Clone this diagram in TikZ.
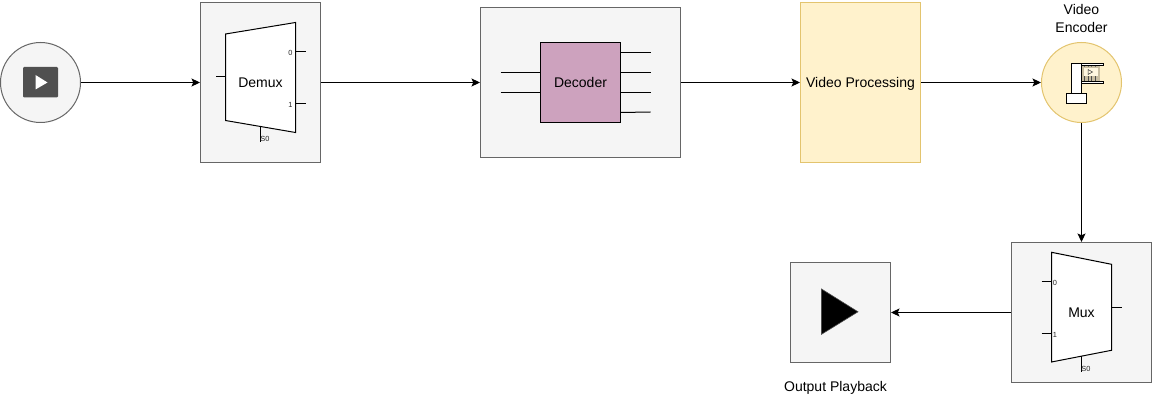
\documentclass[tikz,border=0pt]{standalone}
\usepackage{fontspec}
\setmainfont{Liberation Sans}
\usetikzlibrary{arrows.meta}
\definecolor{boxfill}{HTML}{F5F5F5}
\definecolor{boxline}{HTML}{666666}
\definecolor{yelfill}{HTML}{FFF2CC}
\definecolor{yelline}{HTML}{E3C46E}
\definecolor{purp}{HTML}{CDA2BE}
\definecolor{icon}{HTML}{505050}
\definecolor{film}{HTML}{C9BEA2}
\tikzset{
  graybox/.style={draw=boxline,fill=boxfill,line width=1pt,inner sep=0pt},
  conn/.style={draw=black,line width=1pt,-{Stealth[length=8.5pt,width=8pt,inset=1.8pt]}},
  glyph/.style={draw=black,line width=1pt},
  body/.style={font=\fontsize{14}{16}\selectfont,inner sep=0pt,text=black},
  tiny/.style={font=\fontsize{7.4}{8}\selectfont,inner sep=0pt,text=black!85},
}
\begin{document}
\begin{tikzpicture}[x=1pt,y=-1pt]
\useasboundingbox (0,0) rectangle (1152,403);
% containers
\node[graybox,circle,minimum size=80pt] (src) at (40.5,82.5) {};
\node[graybox,minimum width=120pt,minimum height=160pt] (demuxbox) at (260.5,82.5) {};
\node[graybox,minimum width=200pt,minimum height=150pt] (decbox) at (580.5,82.5) {};
\node[draw=yelline,fill=yelfill,line width=1pt,inner sep=0pt,minimum width=120pt,minimum height=160pt] (proc) at (860.5,82.5) {};
\node[body] (proclabel) at (860.5,83.6) {Video Processing};
\node[draw=yelline,fill=yelfill,line width=1pt,circle,inner sep=0pt,minimum size=80pt] (enc) at (1081.5,82.5) {};
\node[graybox,minimum width=140pt,minimum height=140pt] (muxbox) at (1081.5,312.5) {};
\node[graybox,minimum width=100pt,minimum height=100pt] (play) at (840.5,312.5) {};
% source icon
\fill[icon,rounded corners=1.2pt] (23,67) rectangle (58,97.5);
\fill[white] (35.5,75) -- (47.5,82.5) -- (35.5,89.5) -- cycle;
% demux
\draw[glyph,fill=white] (225.5,34) -- (295.5,22.5) -- (295.5,132.5) -- (225.5,120.5) -- cycle;
\draw[glyph] (225.5,77) -- (215.5,77);
\draw[glyph] (295.5,51.5) -- (305.5,51.5);
\draw[glyph] (295.5,103.5) -- (305.5,103.5);
\draw[glyph] (260.5,126.5) -- (260.5,142.5);
\node[tiny] (d0) at (290.5,52.5) {0};
\node[tiny] (d1) at (290.5,104.5) {1};
\node[tiny] (ds) at (265,138.5) {S0};
\node[body] (demuxlabel) at (260.5,82.3) {Demux};
% decoder
\node[draw=black,fill=purp,line width=1pt,inner sep=0pt,minimum size=80pt] (dec) at (580.5,82.5) {};
\node[body] (declabel) at (580.5,82.3) {Decoder};
\draw[glyph] (500.5,72.5) -- (540.5,72.5);
\draw[glyph] (500.5,92.5) -- (540.5,92.5);
\draw[glyph] (620.5,52.5) -- (650.5,52.5);
\draw[glyph] (620.5,72.5) -- (650.5,72.5);
\draw[glyph] (620.5,92.5) -- (650.5,92.5);
\draw[glyph] (620.5,112.5) -- (650.5,112);
% encoder icon
\node[body,align=center,font=\fontsize{14}{18}\selectfont] (enclabel) at (1081.5,18) {Video\\Encoder};
\fill[film] (1082,66) rectangle (1099.5,81);
\fill[yelfill!60!white] (1084,68) rectangle (1097.5,76);
\foreach \sx in {1084.5,1088,1091.5,1095}{\draw[black!70,line width=0.8pt] (\sx,76.5) -- (\sx,81);\draw[black!55,line width=0.6pt] (\sx,66) -- (\sx,67.5);}
\draw[black!80,line width=0.5pt] (1088,69.5) -- (1092.5,72) -- (1088,74.5) -- cycle;
\draw[glyph,fill=white] (1071.5,63.5) rectangle (1081,93.5);
\draw[glyph,fill=white] (1066.5,93.5) rectangle (1086.5,103.5);
\draw[glyph,fill=white] (1081,63.5) rectangle (1103.5,65.5);
\draw[glyph,fill=white] (1081,81.5) rectangle (1103.5,83.5);
% mux
\draw[glyph,fill=white] (1051.5,252.3) -- (1111.5,264.3) -- (1111.5,350.3) -- (1051.5,362) -- cycle;
\draw[glyph] (1041.5,281.5) -- (1051.5,281.5);
\draw[glyph] (1041.5,333.5) -- (1051.5,333.5);
\draw[glyph] (1111.5,307.5) -- (1121.5,307.5);
\draw[glyph] (1081.5,356.5) -- (1081.5,372.5);
\node[tiny] (m0) at (1055,282.5) {0};
\node[tiny] (m1) at (1055,334.5) {1};
\node[tiny] (ms) at (1086,368.5) {S0};
\node[body] (muxlabel) at (1081.5,312.3) {Mux};
% playback
\draw[draw=black!70,fill=black,line width=0.6pt] (821.5,289) -- (858,311.8) -- (821.5,334.3) -- cycle;
\node[body] (playlabel) at (835.5,388.3) {Output Playback};
% connectors
\draw[conn] (src) -- (demuxbox);
\draw[conn] (demuxbox) -- (decbox);
\draw[conn] (decbox) -- (proc);
\draw[conn] (proc) -- (enc);
\draw[conn] (enc) -- (muxbox);
\draw[conn] (muxbox) -- (play);
\end{tikzpicture}
\end{document}
